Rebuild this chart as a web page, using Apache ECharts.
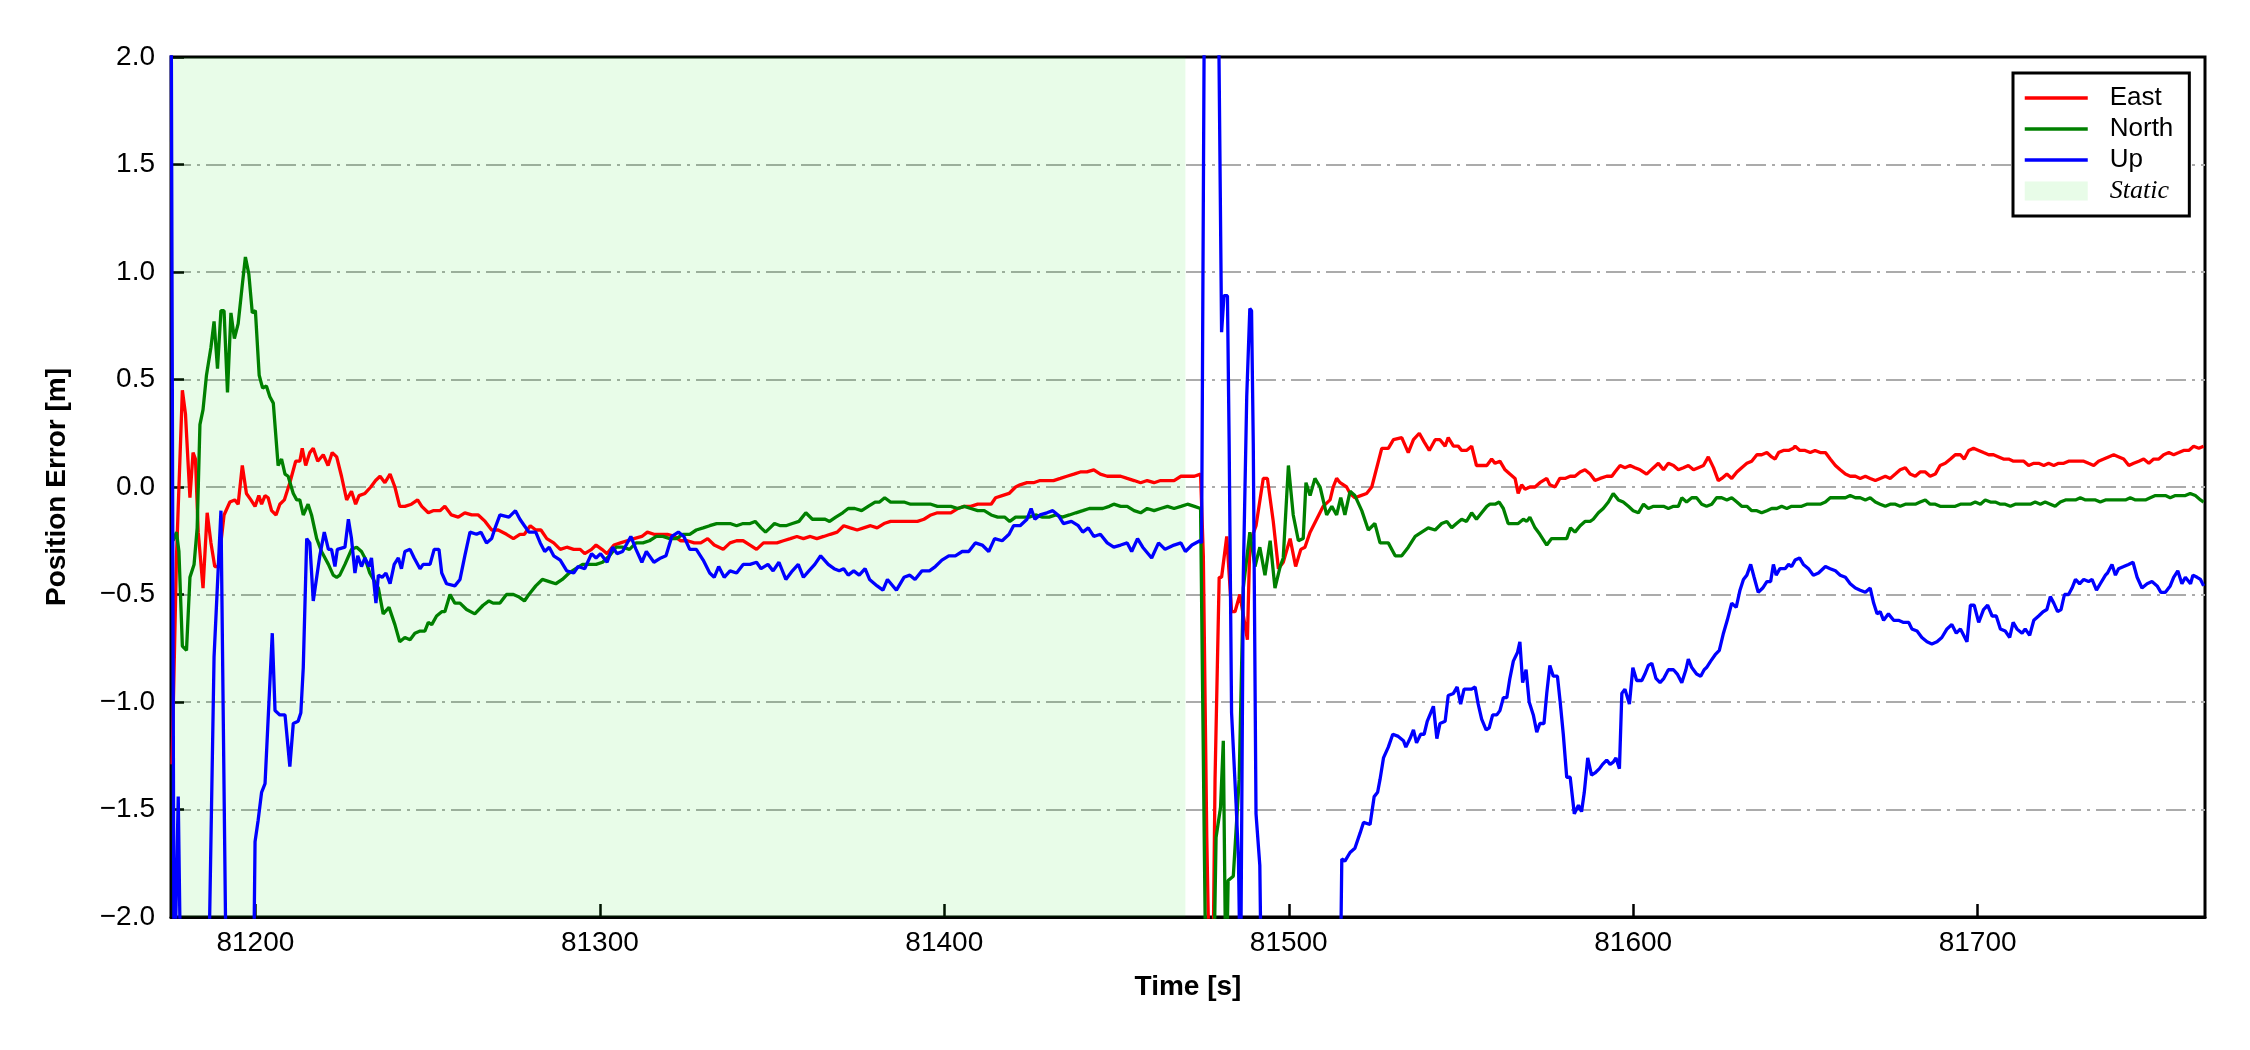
<!DOCTYPE html>
<html>
<head>
<meta charset="utf-8">
<title>Position Error</title>
<script src="https://cdn.jsdelivr.net/npm/echarts@6/dist/echarts.min.js"></script>
<style>
  html, body { margin: 0; padding: 0; background: #fff; }
  #chart { width: 2250px; height: 1050px; }
</style>
</head>
<body>
<div id="chart"></div>
<script>
// time [s], error [m]
const east = [
  [81175.8, -1.29], [81177.1, -0.32], [81178.8, 0.45], [81179.7, 0.34], [81181.0, -0.05], [81181.9, 0.16],
  [81182.6, 0.13], [81183.4, -0.21], [81184.8, -0.47], [81186.0, -0.12], [81187.1, -0.26], [81188.2, -0.37],
  [81189.2, -0.37], [81190.9, -0.13], [81192.6, -0.07], [81194.0, -0.06], [81195.0, -0.08], [81196.2, 0.10],
  [81197.4, -0.03], [81198.7, -0.06], [81199.9, -0.09], [81201.0, -0.04], [81201.8, -0.08], [81202.8, -0.04],
  [81203.7, -0.05], [81204.7, -0.11], [81206.0, -0.13], [81207.1, -0.08], [81208.4, -0.06], [81210.0, 0.02],
  [81211.7, 0.12], [81212.9, 0.12], [81213.6, 0.18], [81214.6, 0.10], [81215.8, 0.16], [81216.8, 0.18],
  [81218.1, 0.12], [81219.7, 0.15], [81221.1, 0.10], [81222.3, 0.16], [81223.6, 0.14], [81225.0, 0.05],
  [81226.5, -0.06], [81227.9, -0.02], [81229.1, -0.08], [81230.1, -0.04], [81231.8, -0.03], [81233.5, 0.00],
  [81234.9, 0.03], [81236.2, 0.05], [81237.6, 0.02], [81239.1, 0.06], [81240.5, 0.00], [81241.9, -0.09],
  [81243.4, -0.09], [81245.3, -0.08], [81247.1, -0.06], [81248.3, -0.09], [81250.2, -0.12], [81251.6, -0.11],
  [81253.6, -0.11], [81255.0, -0.09], [81256.9, -0.13], [81258.9, -0.14], [81260.8, -0.12], [81262.8, -0.13],
  [81264.7, -0.13], [81266.7, -0.16], [81268.6, -0.20], [81270.5, -0.20], [81272.9, -0.22], [81274.9, -0.24],
  [81276.8, -0.22], [81278.1, -0.22], [81279.8, -0.18], [81281.4, -0.20], [81282.9, -0.20], [81284.6, -0.24],
  [81286.6, -0.26], [81288.5, -0.29], [81290.4, -0.28], [81292.4, -0.29], [81294.3, -0.29], [81295.6, -0.31],
  [81297.6, -0.29], [81298.9, -0.27], [81300.6, -0.29], [81302.1, -0.31], [81304.1, -0.27], [81306.0, -0.26],
  [81307.9, -0.25], [81309.9, -0.24], [81312.2, -0.23], [81313.8, -0.21], [81315.7, -0.22], [81317.7, -0.22],
  [81319.6, -0.22], [81321.6, -0.23], [81323.5, -0.25], [81325.4, -0.25], [81327.4, -0.26], [81329.3, -0.26],
  [81331.3, -0.24], [81333.2, -0.27], [81335.8, -0.29], [81337.8, -0.26], [81339.7, -0.25], [81341.6, -0.25],
  [81343.6, -0.27], [81345.5, -0.29], [81347.5, -0.26], [81349.4, -0.26], [81351.4, -0.26], [81353.3, -0.25],
  [81355.3, -0.24], [81357.2, -0.23], [81359.1, -0.24], [81361.1, -0.23], [81363.0, -0.24], [81365.0, -0.23],
  [81366.9, -0.22], [81368.9, -0.21], [81370.8, -0.18], [81372.7, -0.19], [81374.7, -0.20], [81376.6, -0.19],
  [81378.6, -0.18], [81380.5, -0.19], [81382.5, -0.17], [81384.4, -0.16], [81386.4, -0.16], [81388.3, -0.16],
  [81390.2, -0.16], [81392.2, -0.16], [81394.1, -0.15], [81396.1, -0.13], [81398.0, -0.12], [81400.0, -0.12],
  [81401.9, -0.12], [81403.9, -0.10], [81405.8, -0.09], [81407.7, -0.09], [81409.7, -0.08], [81411.6, -0.08],
  [81413.6, -0.08], [81414.9, -0.05], [81416.8, -0.04], [81418.8, -0.03], [81420.7, 0.00], [81422.0, 0.01],
  [81424.0, 0.02], [81425.9, 0.02], [81427.8, 0.03], [81429.8, 0.03], [81431.7, 0.03], [81433.7, 0.04],
  [81435.6, 0.05], [81437.6, 0.06], [81439.5, 0.07], [81441.4, 0.07], [81443.4, 0.08], [81445.3, 0.06],
  [81447.3, 0.05], [81449.2, 0.05], [81451.2, 0.05], [81453.1, 0.04], [81455.1, 0.03], [81457.0, 0.02],
  [81458.9, 0.03], [81460.9, 0.02], [81462.8, 0.03], [81464.8, 0.03], [81466.7, 0.03], [81468.7, 0.05],
  [81470.6, 0.05], [81472.6, 0.05], [81474.4, 0.06], [81475.2, -0.32], [81476.2, -1.63], [81477.1, -2.4],
  [81477.9, -2.4], [81478.6, -1.36], [81479.8, -0.42], [81480.5, -0.42], [81482.0, -0.23], [81483.4, -0.58],
  [81484.4, -0.58], [81485.8, -0.50], [81488.0, -0.71], [81488.7, -0.26], [81490.5, -0.18], [81492.6, 0.04],
  [81493.8, 0.04], [81495.5, -0.16], [81497.0, -0.38], [81498.4, -0.35], [81500.4, -0.24], [81502.0, -0.37],
  [81503.5, -0.29], [81504.7, -0.28], [81506.2, -0.21], [81508.1, -0.15], [81510.0, -0.09], [81512.0, -0.06],
  [81512.9, 0.00], [81513.9, 0.04], [81514.9, 0.02], [81516.8, 0.00], [81517.8, -0.03], [81519.2, -0.05],
  [81520.9, -0.04], [81522.6, -0.03], [81524.1, 0.00], [81527.0, 0.18], [81528.9, 0.18], [81530.4, 0.22],
  [81532.8, 0.23], [81534.7, 0.16], [81536.2, 0.22], [81537.9, 0.25], [81539.3, 0.21], [81540.8, 0.17],
  [81542.5, 0.22], [81543.9, 0.22], [81545.4, 0.19], [81546.3, 0.23], [81547.8, 0.19], [81549.2, 0.19],
  [81550.2, 0.17], [81551.6, 0.17], [81553.1, 0.19], [81554.5, 0.10], [81556.0, 0.10], [81557.5, 0.10],
  [81558.9, 0.13], [81559.9, 0.11], [81561.3, 0.12], [81562.8, 0.08], [81564.2, 0.06], [81565.7, 0.04],
  [81566.6, -0.03], [81567.6, 0.01], [81568.6, -0.01], [81570.0, 0.00], [81571.5, 0.00], [81572.9, 0.02],
  [81574.9, 0.04], [81575.8, 0.01], [81577.3, 0.00], [81578.7, 0.04], [81580.2, 0.04], [81581.7, 0.05],
  [81583.1, 0.05], [81584.6, 0.07], [81586.0, 0.08], [81587.5, 0.06], [81588.9, 0.03], [81590.4, 0.04],
  [81592.3, 0.05], [81593.8, 0.05], [81594.7, 0.07], [81596.2, 0.10], [81597.6, 0.09], [81599.1, 0.10],
  [81600.5, 0.09], [81602.0, 0.08], [81603.9, 0.06], [81605.9, 0.09], [81607.3, 0.11], [81608.8, 0.08],
  [81610.2, 0.11], [81611.7, 0.10], [81613.1, 0.08], [81614.6, 0.09], [81616.0, 0.10], [81617.5, 0.08],
  [81618.9, 0.09], [81620.4, 0.10], [81621.8, 0.14], [81623.3, 0.09], [81624.7, 0.03], [81625.7, 0.04],
  [81627.2, 0.06], [81628.6, 0.04], [81630.1, 0.07], [81631.5, 0.09], [81633.0, 0.11], [81634.4, 0.12],
  [81635.9, 0.15], [81637.3, 0.15], [81638.8, 0.16], [81640.2, 0.14], [81641.2, 0.13], [81642.2, 0.16],
  [81643.6, 0.17], [81645.1, 0.17], [81646.5, 0.18], [81647.0, 0.19], [81648.4, 0.17], [81649.9, 0.17],
  [81651.4, 0.16], [81652.8, 0.17], [81654.3, 0.16], [81655.8, 0.16], [81657.2, 0.13], [81658.7, 0.10],
  [81660.1, 0.08], [81661.6, 0.06], [81663.0, 0.05], [81664.5, 0.05], [81665.9, 0.04], [81667.4, 0.05],
  [81668.8, 0.04], [81670.3, 0.03], [81671.7, 0.04], [81673.2, 0.05], [81674.6, 0.04], [81676.1, 0.06],
  [81677.5, 0.08], [81679.0, 0.09], [81680.4, 0.06], [81681.9, 0.05], [81683.3, 0.07], [81684.8, 0.07],
  [81686.2, 0.05], [81687.7, 0.06], [81689.1, 0.10], [81690.6, 0.11], [81692.1, 0.13], [81693.5, 0.15],
  [81695.0, 0.15], [81696.1, 0.13], [81697.4, 0.17], [81698.8, 0.18], [81700.3, 0.17], [81701.7, 0.16],
  [81703.2, 0.15], [81704.6, 0.15], [81706.1, 0.14], [81707.5, 0.13], [81709.0, 0.13], [81710.4, 0.12],
  [81711.9, 0.12], [81713.4, 0.12], [81714.8, 0.10], [81716.3, 0.11], [81717.7, 0.11], [81719.2, 0.10],
  [81720.6, 0.11], [81722.1, 0.10], [81723.5, 0.11], [81725.0, 0.11], [81726.4, 0.12], [81727.9, 0.12],
  [81729.3, 0.12], [81730.8, 0.12], [81732.2, 0.11], [81733.7, 0.10], [81735.1, 0.12], [81736.6, 0.13],
  [81738.0, 0.14], [81739.5, 0.15], [81741.0, 0.14], [81742.4, 0.13], [81743.9, 0.10], [81745.3, 0.11],
  [81746.8, 0.12], [81748.2, 0.13], [81749.7, 0.11], [81751.1, 0.13], [81752.6, 0.13], [81754.0, 0.15],
  [81755.5, 0.16], [81756.9, 0.15], [81758.4, 0.16], [81759.8, 0.17], [81761.3, 0.17], [81762.7, 0.19],
  [81764.2, 0.18], [81765.6, 0.19]
];

const north = [
  [81176.1, -0.25], [81177.1, -0.21], [81177.8, -0.30], [81178.8, -0.74], [81180.0, -0.76], [81181.0, -0.42],
  [81182.2, -0.36], [81183.1, -0.19], [81183.9, 0.29], [81184.8, 0.36], [81185.8, 0.52], [81187.1, 0.65],
  [81188.0, 0.77], [81189.0, 0.55], [81190.0, 0.82], [81190.9, 0.82], [81191.9, 0.44], [81192.9, 0.81],
  [81193.9, 0.69], [81195.0, 0.76], [81196.2, 0.94], [81197.1, 1.07], [81198.1, 0.99], [81199.1, 0.81],
  [81200.0, 0.82], [81201.1, 0.52], [81202.1, 0.46], [81203.2, 0.47], [81204.2, 0.42], [81205.2, 0.39],
  [81206.6, 0.10], [81207.6, 0.13], [81208.6, 0.06], [81209.5, 0.05], [81211.0, -0.03], [81212.0, -0.06],
  [81212.9, -0.06], [81213.9, -0.13], [81215.3, -0.08], [81216.3, -0.13], [81217.8, -0.24], [81219.2, -0.30],
  [81221.2, -0.36], [81222.6, -0.41], [81223.6, -0.42], [81224.5, -0.41], [81226.0, -0.36], [81227.9, -0.29],
  [81229.4, -0.28], [81230.8, -0.30], [81231.8, -0.33], [81233.2, -0.40], [81235.7, -0.47], [81237.1, -0.59],
  [81238.8, -0.56], [81240.5, -0.64], [81241.9, -0.72], [81243.4, -0.70], [81244.9, -0.71], [81246.3, -0.68],
  [81247.8, -0.67], [81249.2, -0.67], [81250.2, -0.63], [81251.2, -0.64], [81252.6, -0.60], [81254.1, -0.58],
  [81255.0, -0.58], [81256.5, -0.50], [81257.9, -0.54], [81259.4, -0.54], [81261.3, -0.57], [81263.7, -0.59],
  [81266.1, -0.55], [81267.8, -0.53], [81269.0, -0.54], [81271.0, -0.54], [81272.9, -0.50], [81274.9, -0.50],
  [81276.4, -0.51], [81278.1, -0.53], [81279.4, -0.50], [81281.4, -0.46], [81283.3, -0.43], [81285.3, -0.44],
  [81287.2, -0.45], [81289.1, -0.43], [81291.1, -0.40], [81293.0, -0.38], [81295.0, -0.36], [81296.9, -0.36],
  [81298.9, -0.36], [81300.8, -0.35], [81302.8, -0.32], [81304.7, -0.28], [81306.6, -0.28], [81308.6, -0.29],
  [81310.5, -0.26], [81312.5, -0.26], [81314.4, -0.25], [81316.4, -0.23], [81318.3, -0.23], [81320.3, -0.24],
  [81322.2, -0.24], [81324.1, -0.22], [81326.1, -0.22], [81328.0, -0.20], [81330.0, -0.19], [81331.9, -0.18],
  [81333.9, -0.17], [81335.8, -0.17], [81337.8, -0.17], [81339.7, -0.18], [81341.6, -0.17], [81343.6, -0.17],
  [81345.1, -0.16], [81346.8, -0.19], [81348.1, -0.21], [81349.4, -0.19], [81350.7, -0.17], [81352.4, -0.18],
  [81354.0, -0.18], [81355.9, -0.17], [81357.8, -0.16], [81359.8, -0.12], [81361.7, -0.15], [81363.7, -0.15],
  [81365.4, -0.15], [81366.7, -0.16], [81368.5, -0.14], [81370.5, -0.12], [81372.1, -0.10], [81374.0, -0.10],
  [81376.0, -0.11], [81377.9, -0.09], [81379.9, -0.07], [81381.2, -0.07], [81382.7, -0.05], [81384.4, -0.07],
  [81386.4, -0.07], [81388.3, -0.07], [81390.2, -0.08], [81392.2, -0.08], [81394.1, -0.08], [81396.1, -0.08],
  [81398.0, -0.09], [81400.0, -0.09], [81401.9, -0.09], [81403.9, -0.10], [81405.8, -0.09], [81407.7, -0.10],
  [81409.7, -0.11], [81411.6, -0.11], [81413.6, -0.13], [81415.5, -0.14], [81417.5, -0.14], [81419.0, -0.16],
  [81420.7, -0.14], [81422.7, -0.14], [81424.6, -0.14], [81426.5, -0.13], [81428.5, -0.14], [81430.4, -0.14],
  [81432.4, -0.13], [81434.3, -0.14], [81436.3, -0.13], [81438.2, -0.12], [81440.2, -0.11], [81442.1, -0.10],
  [81444.0, -0.10], [81446.0, -0.10], [81447.9, -0.09], [81449.2, -0.08], [81451.2, -0.09], [81453.1, -0.09],
  [81455.1, -0.11], [81457.0, -0.12], [81458.9, -0.10], [81460.9, -0.11], [81462.8, -0.10], [81464.8, -0.09],
  [81466.7, -0.10], [81468.7, -0.09], [81470.6, -0.08], [81472.6, -0.09], [81474.4, -0.10], [81476.0, -2.4],
  [81478.1, -2.4], [81478.9, -1.63], [81480.2, -1.49], [81481.0, -1.18], [81481.8, -2.4], [81482.4, -1.83],
  [81483.9, -1.81], [81485.6, -1.36], [81486.8, -0.47], [81488.7, -0.21], [81490.2, -0.37], [81491.6, -0.28],
  [81493.1, -0.41], [81494.6, -0.25], [81496.0, -0.47], [81497.5, -0.37], [81498.4, -0.33], [81499.9, 0.10],
  [81501.3, -0.13], [81502.8, -0.25], [81504.2, -0.24], [81505.0, 0.02], [81506.2, -0.04], [81507.6, 0.04],
  [81509.1, 0.00], [81511.0, -0.13], [81512.5, -0.09], [81513.9, -0.13], [81515.1, -0.05], [81516.3, -0.13],
  [81517.8, -0.02], [81519.2, -0.04], [81521.2, -0.11], [81523.1, -0.20], [81525.0, -0.17], [81526.5, -0.26],
  [81528.9, -0.26], [81530.9, -0.32], [81532.8, -0.32], [81534.7, -0.28], [81536.7, -0.23], [81538.6, -0.21],
  [81540.5, -0.19], [81542.5, -0.20], [81544.4, -0.17], [81545.9, -0.16], [81547.3, -0.19], [81548.7, -0.17],
  [81550.2, -0.15], [81551.6, -0.16], [81553.1, -0.12], [81554.5, -0.15], [81556.0, -0.12], [81557.5, -0.09],
  [81558.4, -0.08], [81559.9, -0.08], [81561.1, -0.07], [81562.3, -0.10], [81563.7, -0.17], [81565.2, -0.17],
  [81566.6, -0.17], [81568.1, -0.15], [81569.1, -0.16], [81570.0, -0.14], [81571.5, -0.19], [81572.9, -0.22],
  [81574.9, -0.27], [81576.3, -0.24], [81577.8, -0.24], [81579.2, -0.24], [81580.7, -0.24], [81581.8, -0.19],
  [81583.1, -0.21], [81584.6, -0.18], [81586.0, -0.16], [81587.5, -0.16], [81588.4, -0.15], [81589.9, -0.12],
  [81591.3, -0.10], [81592.8, -0.07], [81594.2, -0.03], [81595.7, -0.06], [81597.1, -0.07], [81598.6, -0.09],
  [81600.0, -0.11], [81601.5, -0.12], [81603.0, -0.08], [81604.4, -0.10], [81605.9, -0.09], [81607.3, -0.09],
  [81608.8, -0.09], [81610.2, -0.10], [81611.7, -0.09], [81613.1, -0.09], [81614.1, -0.05], [81615.5, -0.07],
  [81617.0, -0.05], [81618.4, -0.05], [81619.9, -0.08], [81621.3, -0.09], [81622.8, -0.08], [81624.2, -0.05],
  [81625.7, -0.05], [81627.2, -0.06], [81628.6, -0.05], [81630.1, -0.07], [81631.5, -0.09], [81633.0, -0.09],
  [81634.4, -0.11], [81635.9, -0.11], [81637.3, -0.12], [81638.8, -0.11], [81640.2, -0.10], [81641.7, -0.10],
  [81643.1, -0.09], [81644.6, -0.10], [81646.0, -0.09], [81647.5, -0.09], [81648.9, -0.09], [81650.4, -0.08],
  [81651.8, -0.08], [81653.3, -0.08], [81654.3, -0.08], [81655.8, -0.07], [81657.2, -0.05], [81658.7, -0.05],
  [81660.1, -0.05], [81661.6, -0.05], [81663.0, -0.04], [81664.5, -0.05], [81665.9, -0.05], [81667.4, -0.06],
  [81668.8, -0.05], [81670.3, -0.07], [81671.7, -0.08], [81673.2, -0.09], [81674.6, -0.08], [81676.1, -0.08],
  [81677.5, -0.09], [81679.0, -0.08], [81680.4, -0.08], [81681.9, -0.08], [81683.3, -0.07], [81684.8, -0.06],
  [81686.2, -0.08], [81687.7, -0.08], [81689.1, -0.09], [81690.6, -0.09], [81692.1, -0.09], [81693.5, -0.09],
  [81695.0, -0.08], [81696.4, -0.08], [81697.9, -0.08], [81699.3, -0.07], [81700.8, -0.08], [81702.2, -0.06],
  [81703.7, -0.07], [81705.1, -0.07], [81706.6, -0.08], [81708.0, -0.08], [81709.5, -0.09], [81710.9, -0.08],
  [81712.4, -0.08], [81713.8, -0.08], [81715.3, -0.08], [81716.7, -0.07], [81718.2, -0.08], [81719.6, -0.07],
  [81721.1, -0.08], [81722.5, -0.09], [81724.0, -0.07], [81725.5, -0.06], [81726.9, -0.06], [81728.4, -0.06],
  [81729.8, -0.05], [81731.3, -0.06], [81732.7, -0.06], [81734.2, -0.06], [81735.6, -0.07], [81737.1, -0.06],
  [81738.5, -0.06], [81740.0, -0.06], [81741.4, -0.06], [81742.9, -0.06], [81744.3, -0.05], [81745.8, -0.06],
  [81747.2, -0.06], [81748.7, -0.06], [81750.1, -0.05], [81751.6, -0.04], [81753.0, -0.04], [81754.5, -0.04],
  [81755.9, -0.05], [81757.4, -0.04], [81758.8, -0.04], [81760.3, -0.04], [81761.7, -0.03], [81763.2, -0.04],
  [81764.7, -0.06], [81765.6, -0.07]
];

const up = [
  [81175.5, 2.6], [81176.4, -2.4], [81177.6, -1.44], [81178.4, -2.4], [81186.3, -2.4], [81188.0, -0.79],
  [81190.0, -0.11], [81191.6, -2.4], [81199.4, -2.4], [81199.9, -1.65], [81200.8, -1.55], [81201.8, -1.42],
  [81202.8, -1.38], [81204.9, -0.68], [81205.7, -1.04], [81207.1, -1.06], [81208.6, -1.06], [81210.0, -1.30],
  [81211.0, -1.10], [81212.4, -1.09], [81213.2, -1.05], [81213.9, -0.84], [81214.9, -0.24], [81215.8, -0.26],
  [81216.8, -0.53], [81218.7, -0.32], [81220.0, -0.21], [81221.2, -0.29], [81222.1, -0.29], [81223.1, -0.37],
  [81223.8, -0.29], [81226.0, -0.28], [81227.0, -0.15], [81227.9, -0.24], [81228.9, -0.40], [81229.7, -0.32],
  [81230.8, -0.37], [81231.8, -0.33], [81233.0, -0.37], [81233.7, -0.33], [81235.0, -0.54], [81235.7, -0.41],
  [81236.8, -0.42], [81237.9, -0.40], [81239.1, -0.45], [81240.3, -0.36], [81241.5, -0.33], [81242.4, -0.38],
  [81243.4, -0.30], [81244.9, -0.29], [81246.1, -0.33], [81247.8, -0.38], [81248.7, -0.36], [81250.7, -0.36],
  [81251.9, -0.29], [81253.3, -0.29], [81254.1, -0.40], [81255.5, -0.45], [81257.9, -0.46], [81259.4, -0.43],
  [81260.8, -0.32], [81262.3, -0.21], [81264.2, -0.22], [81265.5, -0.21], [81267.1, -0.26], [81268.6, -0.24],
  [81269.6, -0.19], [81271.0, -0.13], [81273.6, -0.14], [81275.5, -0.11], [81276.8, -0.15], [81278.1, -0.18],
  [81279.4, -0.21], [81281.4, -0.21], [81282.7, -0.26], [81284.0, -0.30], [81285.3, -0.28], [81286.6, -0.32],
  [81288.5, -0.34], [81290.4, -0.39], [81292.4, -0.40], [81293.7, -0.37], [81295.6, -0.38], [81297.6, -0.31],
  [81298.9, -0.33], [81300.2, -0.31], [81302.1, -0.35], [81303.7, -0.28], [81305.0, -0.31], [81306.6, -0.30],
  [81309.0, -0.23], [81310.5, -0.29], [81312.2, -0.35], [81313.5, -0.30], [81315.7, -0.35], [81317.7, -0.33],
  [81319.2, -0.32], [81320.9, -0.23], [81322.8, -0.21], [81324.4, -0.23], [81326.1, -0.29], [81328.0, -0.29],
  [81330.0, -0.34], [81331.9, -0.40], [81333.2, -0.42], [81334.5, -0.37], [81336.1, -0.42], [81337.8, -0.39],
  [81339.7, -0.40], [81341.6, -0.36], [81343.6, -0.36], [81345.5, -0.35], [81346.8, -0.38], [81348.8, -0.36],
  [81350.3, -0.39], [81352.0, -0.35], [81354.0, -0.43], [81355.9, -0.39], [81357.6, -0.36], [81359.1, -0.42],
  [81360.7, -0.39], [81362.4, -0.36], [81364.1, -0.32], [81366.3, -0.36], [81368.0, -0.38], [81369.5, -0.39],
  [81370.8, -0.38], [81372.1, -0.41], [81373.7, -0.39], [81375.3, -0.41], [81377.0, -0.38], [81378.3, -0.43],
  [81380.5, -0.46], [81382.2, -0.48], [81383.5, -0.43], [81386.1, -0.48], [81388.3, -0.42], [81390.0, -0.41],
  [81391.5, -0.43], [81393.5, -0.39], [81395.7, -0.39], [81397.4, -0.37], [81399.3, -0.34], [81401.3, -0.32],
  [81403.2, -0.32], [81405.2, -0.30], [81407.1, -0.30], [81409.0, -0.26], [81411.0, -0.27], [81412.9, -0.30],
  [81414.6, -0.24], [81416.8, -0.25], [81418.8, -0.22], [81420.1, -0.18], [81422.0, -0.18], [81424.0, -0.15],
  [81425.2, -0.10], [81426.3, -0.15], [81427.8, -0.13], [81429.8, -0.12], [81431.5, -0.11], [81433.0, -0.13],
  [81434.6, -0.17], [81436.9, -0.16], [81438.9, -0.18], [81440.2, -0.21], [81441.8, -0.19], [81443.4, -0.23],
  [81445.3, -0.22], [81447.3, -0.26], [81449.2, -0.28], [81451.2, -0.27], [81453.1, -0.26], [81454.4, -0.30],
  [81456.1, -0.24], [81457.6, -0.28], [81460.2, -0.33], [81462.2, -0.26], [81464.1, -0.29], [81466.7, -0.27],
  [81468.7, -0.26], [81470.0, -0.30], [81471.9, -0.27], [81474.2, -0.25], [81474.7, -0.26], [81475.6, 2.6],
  [81479.4, 2.6], [81480.5, 0.72], [81481.2, 0.89], [81482.2, 0.89], [81482.7, 0.20], [81483.4, -1.05],
  [81484.7, -1.47], [81485.4, -1.73], [81486.0, -2.4], [81486.8, -0.42], [81487.8, 0.42], [81488.7, 0.83],
  [81489.2, 0.82], [81489.7, 0.20], [81490.5, -1.52], [81491.6, -1.76], [81492.1, -2.4], [81514.9, -2.4],
  [81515.4, -1.73], [81516.3, -1.74], [81517.8, -1.70], [81519.2, -1.68], [81520.7, -1.61], [81521.7, -1.56],
  [81523.6, -1.57], [81524.8, -1.44], [81525.8, -1.42], [81526.5, -1.36], [81527.5, -1.26], [81528.9, -1.21],
  [81530.2, -1.15], [81531.8, -1.16], [81533.3, -1.18], [81534.0, -1.21], [81535.2, -1.17], [81536.2, -1.13],
  [81537.1, -1.19], [81538.3, -1.15], [81539.3, -1.15], [81540.2, -1.09], [81542.0, -1.02], [81543.0, -1.17],
  [81543.9, -1.10], [81545.4, -1.09], [81546.3, -0.97], [81547.8, -0.96], [81548.9, -0.93], [81549.9, -1.01],
  [81550.9, -0.94], [81552.1, -0.94], [81553.1, -0.94], [81554.1, -0.93], [81555.0, -1.01], [81556.0, -1.08],
  [81557.3, -1.13], [81558.2, -1.12], [81559.2, -1.06], [81560.4, -1.06], [81561.3, -1.04], [81562.3, -0.98],
  [81563.3, -0.98], [81564.2, -0.89], [81565.2, -0.81], [81566.4, -0.77], [81567.1, -0.72], [81567.9, -0.91],
  [81568.9, -0.85], [81569.8, -1.00], [81571.0, -1.06], [81572.0, -1.14], [81572.9, -1.10], [81574.1, -1.10],
  [81574.9, -0.96], [81575.8, -0.83], [81576.8, -0.88], [81578.0, -0.88], [81578.8, -1.00], [81579.7, -1.15],
  [81580.7, -1.35], [81581.7, -1.35], [81582.9, -1.52], [81584.1, -1.48], [81585.0, -1.51], [81585.8, -1.42],
  [81586.8, -1.26], [81587.9, -1.34], [81588.9, -1.33], [81590.2, -1.31], [81591.1, -1.29], [81592.3, -1.27],
  [81593.3, -1.29], [81594.2, -1.28], [81595.0, -1.26], [81596.0, -1.31], [81596.7, -0.96], [81597.6, -0.94],
  [81598.9, -1.01], [81599.9, -0.84], [81601.0, -0.90], [81602.5, -0.90], [81603.4, -0.87], [81604.4, -0.83],
  [81605.4, -0.82], [81606.6, -0.89], [81607.8, -0.91], [81608.9, -0.89], [81610.2, -0.85], [81611.7, -0.85],
  [81612.8, -0.87], [81614.1, -0.91], [81615.3, -0.85], [81616.0, -0.80], [81617.0, -0.84], [81618.4, -0.87],
  [81619.6, -0.88], [81620.6, -0.85], [81621.3, -0.84], [81622.5, -0.81], [81623.8, -0.78], [81625.0, -0.76],
  [81626.2, -0.68], [81627.3, -0.62], [81628.6, -0.54], [81629.9, -0.56], [81631.0, -0.48], [81632.0, -0.43],
  [81633.0, -0.41], [81634.1, -0.36], [81635.1, -0.42], [81636.3, -0.49], [81637.6, -0.47], [81638.8, -0.44],
  [81639.9, -0.44], [81640.7, -0.36], [81641.5, -0.41], [81642.6, -0.38], [81644.1, -0.38], [81645.1, -0.36],
  [81646.0, -0.37], [81647.0, -0.34], [81648.3, -0.33], [81649.4, -0.36], [81650.9, -0.38], [81652.3, -0.41],
  [81653.8, -0.40], [81654.3, -0.40], [81655.8, -0.37], [81657.2, -0.38], [81658.7, -0.39], [81660.1, -0.41],
  [81661.6, -0.42], [81663.0, -0.45], [81664.5, -0.47], [81665.9, -0.48], [81667.4, -0.49], [81668.8, -0.47],
  [81669.8, -0.54], [81670.8, -0.59], [81671.7, -0.58], [81672.7, -0.62], [81674.1, -0.59], [81675.6, -0.62],
  [81677.0, -0.62], [81678.5, -0.63], [81680.0, -0.63], [81680.9, -0.66], [81682.4, -0.67], [81683.8, -0.70],
  [81685.3, -0.72], [81686.7, -0.73], [81688.2, -0.72], [81689.6, -0.70], [81691.1, -0.66], [81692.5, -0.64],
  [81693.8, -0.68], [81695.0, -0.66], [81696.9, -0.72], [81697.9, -0.55], [81699.0, -0.55], [81700.3, -0.63],
  [81701.7, -0.57], [81702.9, -0.55], [81704.2, -0.60], [81705.4, -0.60], [81706.6, -0.66], [81708.0, -0.67],
  [81709.3, -0.70], [81710.3, -0.63], [81711.4, -0.66], [81712.9, -0.68], [81713.8, -0.66], [81715.1, -0.69],
  [81716.3, -0.62], [81717.7, -0.60], [81719.0, -0.58], [81720.1, -0.57], [81721.1, -0.51], [81722.1, -0.54],
  [81723.2, -0.58], [81724.2, -0.57], [81725.2, -0.50], [81726.4, -0.50], [81727.4, -0.47], [81728.4, -0.43],
  [81729.6, -0.45], [81730.8, -0.43], [81732.2, -0.44], [81733.2, -0.43], [81734.5, -0.48], [81735.6, -0.45],
  [81737.1, -0.41], [81737.7, -0.40], [81739.0, -0.36], [81740.0, -0.41], [81740.9, -0.38], [81742.4, -0.37],
  [81743.8, -0.36], [81745.1, -0.35], [81746.3, -0.42], [81747.7, -0.47], [81749.2, -0.45], [81750.6, -0.44],
  [81752.1, -0.46], [81753.2, -0.49], [81754.5, -0.49], [81755.9, -0.46], [81756.9, -0.42], [81758.1, -0.39],
  [81759.3, -0.45], [81760.3, -0.42], [81761.8, -0.45], [81762.5, -0.41], [81763.7, -0.42], [81764.7, -0.43],
  [81765.6, -0.46]
];

const staticSpan = [81175.5, 81470];
const timeTicks = [81200, 81300, 81400, 81500, 81600, 81700];
const timeRange = [81175.5, 81766];
const errorRange = [-2, 2];

const font = 'Liberation Sans, Arial, sans-serif';

function lineSeries (name, color, data) {
  return {
    name: name,
    type: 'line',
    data: data,
    symbol: 'none',
    showSymbol: false,
    clip: true,
    z: 3,
    lineStyle: { color: color, width: 3.3 },
    itemStyle: { color: color }
  };
}

const chart = echarts.init(document.getElementById('chart'), null, { renderer: 'canvas' });

const option = {
  animation: false,
  backgroundColor: '#fff',
  grid: {
    left: 171,
    right: 45,
    top: 57,
    bottom: 133,
    containLabel: false,
    outerBoundsMode: 'none',
    show: true,
    borderColor: '#000',
    borderWidth: 3,
    backgroundColor: 'transparent'
  },
  legend: {
    orient: 'vertical',
    left: 2013,
    top: 73,
    padding: [12, 16, 12, 10],
    itemWidth: 63,
    itemHeight: 19,
    itemGap: 5,
    borderColor: '#000',
    borderWidth: 3,
    borderRadius: 0,
    backgroundColor: '#fff',
    textStyle: { fontFamily: font, fontSize: 26, color: '#000', padding: [0, 0, 0, 17] },
    data: [
      // hide the dot that the line icon would carry
      { name: 'East', itemStyle: { opacity: 0 }, lineStyle: { width: 3.5 } },
      { name: 'North', itemStyle: { opacity: 0 }, lineStyle: { width: 3.5 } },
      { name: 'Up', itemStyle: { opacity: 0 }, lineStyle: { width: 3.5 } },
      {
        name: 'Static',
        icon: 'rect',
        itemStyle: { color: '#e8fce8' },
        textStyle: { fontFamily: 'Liberation Serif, Times New Roman, serif', fontStyle: 'italic', fontSize: 26 }
      }
    ]
  },
  xAxis: {
    type: 'value',
    min: timeRange[0],
    max: timeRange[1],
    name: 'Time [s]',
    nameLocation: 'middle',
    nameGap: 56,
    nameTextStyle: { fontFamily: font, fontSize: 28, fontWeight: 'bold', color: '#000' },
    axisLine: { show: true, onZero: false, lineStyle: { color: '#000', width: 3 } },
    axisTick: { show: true, inside: true, length: 13, customValues: timeTicks, lineStyle: { color: '#000', width: 2.5 } },
    axisLabel: {
      customValues: timeTicks,
      margin: 12,
      fontFamily: font,
      fontSize: 28,
      color: '#000',
      formatter: function (v) {
        return String(Math.round(v));
      }
    },
    splitLine: { show: false }
  },
  yAxis: {
    type: 'value',
    min: errorRange[0],
    max: errorRange[1],
    interval: 0.5,
    name: 'Position Error [m]',
    nameLocation: 'middle',
    nameGap: 100,
    nameTextStyle: { fontFamily: font, fontSize: 28, fontWeight: 'bold', color: '#000' },
    axisLine: { show: true, onZero: false, lineStyle: { color: '#000', width: 3 } },
    axisTick: { show: true, inside: true, length: 13, lineStyle: { color: '#000', width: 2.5 } },
    axisLabel: {
      margin: 16,
      fontFamily: font,
      fontSize: 28,
      color: '#000',
      formatter: function (v) {
        return (v < 0 ? '\u2212' : '') + Math.abs(v).toFixed(1);
      }
    },
    splitLine: {
      show: true,
      showMinLine: false,
      showMaxLine: false,
      lineStyle: { color: '#ababab', width: 2.2, type: [20, 6, 3, 6] }
    }
  },
  series: [
    {
      name: 'Static',
      type: 'line',
      data: [],
      symbol: 'none',
      z: 1,
      itemStyle: { color: '#e8fce8' },
      lineStyle: { color: '#e8fce8' },
      markArea: {
        silent: true,
        itemStyle: { color: 'rgba(0, 220, 0, 0.09)' },
        data: [[{ xAxis: staticSpan[0] }, { xAxis: staticSpan[1] }]]
      }
    },
    lineSeries('East', '#ff0000', east),
    lineSeries('North', '#008000', north),
    lineSeries('Up', '#0000ff', up)
  ]
};

chart.setOption(option);
window.addEventListener('resize', function () {
  chart.resize();
});
</script>
</body>
</html>
